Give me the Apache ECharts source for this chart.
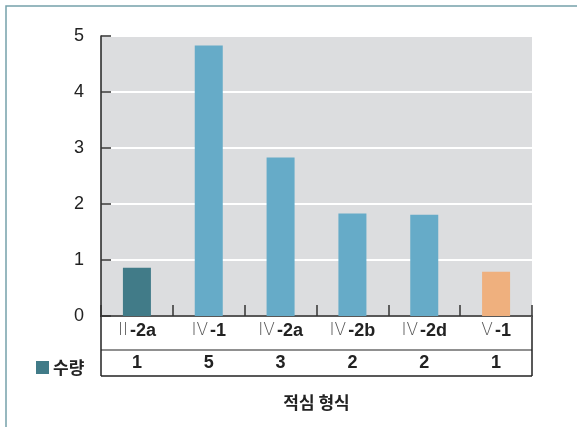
<!DOCTYPE html>
<html>
<head>
<meta charset="utf-8">
<script src="https://cdn.jsdelivr.net/npm/echarts@6/dist/echarts.min.js"></script>
<style>
html,body{margin:0;padding:0;background:#fff;}
#main{width:577px;height:427px;}
</style>
</head>
<body>
<div id="main"></div>
<script>
const categories = ['II-2a', 'IV-1', 'IV-2a', 'IV-2b', 'IV-2d', 'V-1'];
const barValues = [0.86, 4.83, 2.83, 1.83, 1.81, 0.79];
const tableCounts = [1, 5, 3, 2, 2, 1];
const seriesName = '수량';
const axisTitle = '적심 형식';
const yTicks = [0, 1, 2, 3, 4, 5];

const barColors = ['#417b88', '#66abc8', '#66abc8', '#66abc8', '#66abc8', '#efb07e'];
const font = '"Liberation Sans", Arial, sans-serif';

const chart = echarts.init(document.getElementById('main'), null, {renderer: 'canvas'});

const G = {left: 101, right: 45, top: 36, bottom: 111};
const plotRight = 577 - G.right;
const axisY = 427 - G.bottom;

chart.setOption({
  animation: false,
  backgroundColor: '#fff',
  textStyle: {fontFamily: font},
  grid: {left: G.left, right: G.right, top: G.top, bottom: G.bottom, show: true,
         backgroundColor: '#dcdddf', borderWidth: 0, containLabel: false},
  legend: {
    data: [seriesName], left: 31, top: 354, icon: 'rect', itemWidth: 13, itemHeight: 13, itemGap: 4,
    textStyle: {fontFamily: '"Noto Sans CJK KR", sans-serif', fontSize: 17, fontWeight: 'bold', color: '#222', padding: [0,0,0,-1]}
  },
  xAxis: {
    type: 'category', data: categories,
    axisLine: {show: true, lineStyle: {color: '#222', width: 1.5}},
    axisTick: {show: true, inside: true, length: 11, alignWithLabel: false, lineStyle: {color: '#333', width: 1.5}},
    splitLine: {show: false},
    axisLabel: {
      margin: 0, interval: 0,
      formatter: function (val, idx) {
        const k = val.indexOf('-');
        const roman = val.slice(0, k), rest = val.slice(k);
        return '{r|' + roman + '}{b|' + rest + '}\n{v|' + tableCounts[idx] + '}';
      },
      rich: {
        r: {fontFamily: '"DejaVu Sans", sans-serif', fontWeight: 200, fontSize: 17, color: '#555', lineHeight: 30, padding: [0, 2, 0, 0]},
        b: {fontFamily: font, fontWeight: 'bold', fontSize: 18, color: '#222', lineHeight: 30},
        v: {fontFamily: font, fontWeight: 'bold', fontSize: 18, color: '#222', lineHeight: 34}
      }
    }
  },
  yAxis: {
    type: 'value', min: yTicks[0], max: yTicks[yTicks.length - 1], interval: 1,
    axisLine: {show: true, lineStyle: {color: '#222', width: 1.5}},
    axisTick: {show: true, inside: true, length: 10, lineStyle: {color: '#333', width: 1.5}},
    splitLine: {show: true, lineStyle: {color: '#ffffff', width: 2}},
    axisLabel: {margin: 17, fontSize: 18, color: '#222', fontFamily: font}
  },
  series: [{
    name: seriesName, type: 'bar', barWidth: 28,
    itemStyle: {color: barColors[0]},
    data: barValues.map((v, i) => ({value: v, itemStyle: {color: barColors[i]}}))
  }],
  graphic: [
    {type: 'rect', shape: {x: 6, y: 6, width: 640, height: 500}, style: {fill: 'none', stroke: '#76a1ab', lineWidth: 1.5}, silent: true},
    {type: 'line', shape: {x1: G.left, y1: axisY, x2: G.left, y2: axisY + 60}, style: {stroke: '#222', lineWidth: 1.5}},
    {type: 'line', shape: {x1: plotRight, y1: axisY, x2: plotRight, y2: axisY + 60}, style: {stroke: '#222', lineWidth: 1.5}},
    {type: 'line', shape: {x1: G.left, y1: axisY + 34, x2: plotRight, y2: axisY + 34}, style: {stroke: '#222', lineWidth: 1.2}},
    {type: 'line', shape: {x1: G.left, y1: axisY + 60, x2: plotRight, y2: axisY + 60}, style: {stroke: '#222', lineWidth: 1.5}},
    {type: 'text', x: (G.left + plotRight) / 2, y: 403,
     style: {text: axisTitle, fontFamily: '"Noto Sans CJK KR", sans-serif', fontWeight: 'bold', fontSize: 17, fill: '#222', textAlign: 'center', textVerticalAlign: 'middle'}}
  ]
});
</script>
</body>
</html>
